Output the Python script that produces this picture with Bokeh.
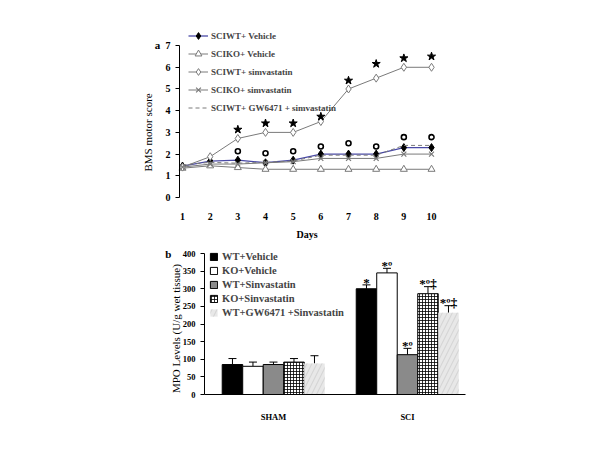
import numpy as np
from bokeh.plotting import figure
from bokeh.layouts import column
from bokeh.models import Legend, LegendItem, Whisker, TeeHead, ColumnDataSource
from bokeh.core.properties import value
from bokeh.embed import file_html
from bokeh.resources import INLINE

# ---------------- data: panel a ----------------
days = [1, 2, 3, 4, 5, 6, 7, 8, 9, 10]
wt_vehicle = [1.45, 1.68, 1.72, 1.6, 1.72, 2.0, 2.0, 2.0, 2.3, 2.3]
ko_vehicle = [1.35, 1.46, 1.38, 1.3, 1.3, 1.3, 1.3, 1.3, 1.3, 1.3]
wt_simva = [1.4, 1.88, 2.72, 3.0, 3.0, 3.5, 5.0, 5.5, 6.0, 6.0]
ko_simva = [1.4, 1.54, 1.54, 1.6, 1.65, 1.8, 1.8, 1.8, 2.0, 2.0]
wt_gw_simva = [1.5, 1.62, 1.58, 1.62, 1.68, 1.95, 1.95, 1.95, 2.4, 2.4]
star_days = [3, 4, 5, 6, 7, 8, 9, 10]
star_y = [3.13, 3.42, 3.42, 3.73, 5.39, 6.16, 6.42, 6.5]
o_days = [3, 4, 5, 6, 7, 8, 9, 10]
o_y = [2.13, 2.04, 2.13, 2.35, 2.5, 2.35, 2.78, 2.78]
a_labels = ["SCIWT+ Vehicle", "SCIKO+ Vehicle", "SCIWT+ simvastatin",
            "SCIKO+ simvastatin", "SCIWT+ GW6471 + simvastatin"]
a_yticks = [0, 1, 2, 3, 4, 5, 6, 7]

# ---------------- data: panel b ----------------
groups = ["SHAM", "SCI"]
b_labels = ["WT+Vehicle", "KO+Vehicle", "WT+Sinvastatin", "KO+Sinvastatin",
            "WT+GW6471 +Sinvastatin"]
sham_mean = [85, 80, 85, 92, 88]
sham_err = [17, 12, 7, 10, 22]
sci_mean = [300, 345, 113, 286, 232]
sci_err = [11, 13, 18, 20, 20]
sci_sig = ["*", "*º", "*º", "*º‡", "*º‡"]
b_yticks = list(range(0, 401, 50))

SERIF = value("Liberation Serif")


def style_axis(ax, size):
    ax.major_label_text_font = "Liberation Serif"
    ax.major_label_text_font_style = "bold"
    ax.major_label_text_font_size = size
    ax.major_label_text_color = "black"
    ax.minor_tick_line_color = None
    ax.axis_line_color = "black"
    ax.major_tick_line_color = "black"


def bare(p):
    p.grid.visible = False
    p.outline_line_color = None
    p.min_border = 0


# ---------------- panel a ----------------
# frame fills the whole figure; axes are placed inside with fixed_location
p1 = figure(width=584, height=240, x_range=(-5.578, 15.529), y_range=(-1.982, 9.078),
            output_backend="svg", toolbar_location=None, title=None)
bare(p1)
xa = p1.xaxis[0]
ya = p1.yaxis[0]
style_axis(xa, "10px")
style_axis(ya, "10px")
xa.fixed_location = 0
xa.ticker = days
xa.axis_line_color = None
xa.major_tick_line_color = None
xa.major_label_standoff = 10
ya.fixed_location = 0.892
ya.ticker = a_yticks
ya.bounds = (0, 7)
ya.major_tick_in = 0
ya.major_tick_out = 4

gray = "#7a7a7a"
l1 = p1.line(days, wt_vehicle, line_color="#4a4aa6", line_width=1.3)
m1 = p1.scatter(days, wt_vehicle, marker="diamond", size=8, color="black")
l2 = p1.line(days, ko_vehicle, line_color=gray, line_width=1)
m2 = p1.scatter(days, ko_vehicle, marker="triangle", size=7, fill_color="white", line_color=gray)
l3 = p1.line(days, wt_simva, line_color=gray, line_width=1)
m3 = p1.scatter(days, wt_simva, marker="diamond", size=8, fill_color="white", line_color=gray)
l4 = p1.line(days, ko_simva, line_color=gray, line_width=1)
m4 = p1.scatter(days, ko_simva, marker="x", size=7, line_color=gray, line_width=1.2)
l5 = p1.line(days, wt_gw_simva, line_color=gray, line_width=1, line_dash="4 3")

p1.scatter(star_days, star_y, marker="star", size=8.5, color="black")
p1.scatter(o_days, o_y, marker="circle", size=5, fill_color=None, line_color="black", line_width=1.6)

leg1 = Legend(items=[LegendItem(label=a_labels[0], renderers=[l1, m1]),
                     LegendItem(label=a_labels[1], renderers=[l2, m2]),
                     LegendItem(label=a_labels[2], renderers=[l3, m3]),
                     LegendItem(label=a_labels[3], renderers=[l4, m4]),
                     LegendItem(label=a_labels[4], renderers=[l5])],
              location=(188, 124), glyph_width=20, glyph_height=17, label_height=17,
              spacing=1, padding=0, margin=0, label_standoff=3,
              background_fill_alpha=0, border_line_color=None,
              label_text_font="Liberation Serif", label_text_font_style="bold",
              label_text_font_size="9px")
p1.add_layout(leg1)

p1.text(x=[0.095], y=[7.05], text=["a"], text_font=SERIF, text_font_style="bold",
        text_font_size="11px", text_align="center", text_baseline="middle")
p1.text(x=[-0.23], y=[3.0], text=["BMS motor score"], angle=np.pi / 2,
        text_font=SERIF, text_font_size="11px", text_align="center", text_baseline="middle")
p1.text(x=[5.5], y=[-1.72], text=["Days"], text_font=SERIF, text_font_style="bold",
        text_font_size="10px", text_align="center", text_baseline="middle")

# ---------------- panel b ----------------
p2 = figure(width=584, height=190, x_range=(-1.037, 3.321), y_range=(-102.1, 436.9),
            output_backend="svg", toolbar_location=None, title=None)
bare(p2)
xb = p2.xaxis[0]
yb = p2.yaxis[0]
style_axis(xb, "8.5px")
style_axis(yb, "8.5px")
xb.fixed_location = 0
xb.bounds = (0.485, 2.433)
xb.ticker = [1, 2]
xb.major_label_overrides = {1: groups[0], 2: groups[1]}
xb.major_tick_line_color = None
xb.major_label_standoff = 11
yb.fixed_location = 0.485
yb.ticker = b_yticks
yb.bounds = (0, 400)
yb.major_tick_in = 0
yb.major_tick_out = 4

bw = 0.153
styles = [
    dict(fill_color="black", line_color="black"),
    dict(fill_color="white", line_color="black"),
    dict(fill_color="#8a8a8a", line_color="black"),
    dict(fill_color="white", line_color="black", hatch_pattern="+", hatch_color="black",
         hatch_scale=3, hatch_weight=0.8),
    dict(fill_color="#e8e8e8", line_color=None, hatch_pattern="/", hatch_color="#d6d6d6",
         hatch_scale=10, hatch_weight=1.2),
]
items = []
for i in range(5):
    xs = [1 + (i - 2) * bw, 2 + (i - 2) * bw]
    tops = [sham_mean[i], sci_mean[i]]
    errs = [sham_err[i], sci_err[i]]
    src = ColumnDataSource(dict(x=xs, top=tops, upper=[t + e for t, e in zip(tops, errs)]))
    r = p2.vbar(x="x", top="top", width=bw, bottom=0, source=src, line_width=1, **styles[i])
    items.append(LegendItem(label=b_labels[i], renderers=[r]))
    p2.add_layout(Whisker(source=src, base="x", lower="top", upper="upper",
                          dimension="height", line_color="black", line_width=1,
                          upper_head=TeeHead(size=8, line_color="black", line_width=1),
                          lower_head=None))
    p2.text(x=[xs[1]], y=[sci_mean[i] + sci_err[i] + 8], text=[sci_sig[i]],
            text_font=SERIF, text_font_style="bold", text_font_size="13px",
            text_align="center", text_baseline="alphabetic")

leg2 = Legend(items=items, location=(209, 111), glyph_width=9, glyph_height=9,
              label_height=13, spacing=1, padding=0, margin=0, label_standoff=4,
              background_fill_alpha=0, border_line_color=None,
              label_text_font="Liberation Serif", label_text_font_style="bold",
              label_text_font_size="10.5px")
p2.add_layout(leg2)

p2.text(x=[0.216], y=[400], text=["b"], text_font=SERIF, text_font_style="bold",
        text_font_size="11px", text_align="center", text_baseline="middle")
p2.text(x=[0.269], y=[187], text=["MPO Levels (U/g wet tissue)"], angle=np.pi / 2,
        text_font=SERIF, text_font_size="11px", text_align="center", text_baseline="middle")

layout = column(p1, p2, spacing=0)
open("out.html", "w").write(file_html(layout, INLINE))
